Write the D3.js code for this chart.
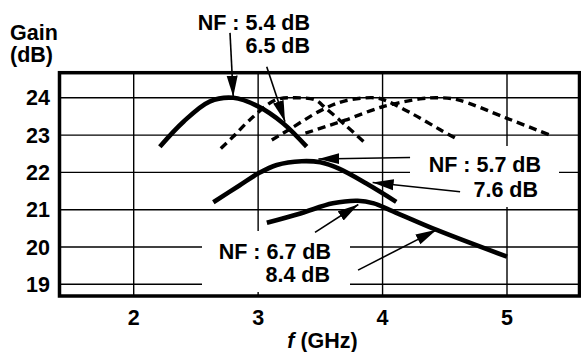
<!DOCTYPE html>
<html>
<head>
<meta charset="utf-8">
<script src="https://cdn.jsdelivr.net/npm/d3@7"></script>
<style>
  html, body { margin: 0; padding: 0; background: #fff; }
  text { font-family: 'Liberation Sans', Arial, sans-serif; font-weight: bold; font-size: 21.5px; fill: #000; white-space: pre; }
</style>
</head>
<body>
<div id="chart_gain"></div>
<script>
// tick labels
var xTicks = [2, 3, 4, 5];
var yTicks = [19, 20, 21, 22, 23, 24];

// solid curves (f in GHz, gain in dB)
var freqA = [2.21, 2.40, 2.61, 2.80, 3.00, 3.20, 3.39];
var gainA = [22.69, 23.36, 23.90, 24.00, 23.77, 23.32, 22.69];
var freqB = [2.64, 2.85, 3.00, 3.15, 3.35, 3.50, 3.65, 3.87, 4.11];
var gainB = [21.20, 21.65, 21.97, 22.20, 22.30, 22.27, 22.10, 21.70, 21.21];
var freqC = [3.07, 3.34, 3.60, 3.80, 3.93, 4.06, 4.44, 5.00];
var gainC = [20.65, 20.90, 21.17, 21.24, 21.17, 20.99, 20.45, 19.74];

// dashed curves
var freqD1 = [2.70, 2.80, 2.93, 3.14, 3.30, 3.46, 3.54, 3.70, 3.87];
var gainD1 = [22.64, 22.96, 23.40, 23.94, 24.00, 23.94, 23.73, 23.27, 22.76];
var freqD2 = [3.11, 3.24, 3.51, 3.70, 3.94, 4.03, 4.25, 4.46, 4.60];
var gainD2 = [22.87, 23.13, 23.67, 23.92, 24.00, 23.92, 23.55, 23.15, 22.89];
var freqD3 = [3.38, 3.58, 3.70, 4.00, 4.30, 4.45, 4.60, 5.00, 5.36];
var gainD3 = [23.05, 23.27, 23.40, 23.76, 23.97, 24.00, 23.95, 23.45, 22.98];

// arrows: [fromF, fromG, toF, toG]
var arrows = [
  [2.774, 25.74, 2.800, 24.03],
  [3.069, 24.83, 3.216, 23.36],
  [4.221, 22.40, 3.484, 22.36],
  [4.623, 21.48, 3.920, 21.73],
  [3.457, 20.39, 3.805, 21.14],
  [3.803, 19.38, 4.434, 20.46]
];

var width = 581, height = 352;
var plot = {left: 59.5, top: 72.7, right: 579.5, bottom: 296};

var svg = d3
  .select('#chart_gain')
  .append('svg')
  .attr('width', width)
  .attr('height', height);

var x = d3.scaleLinear().domain([2, 5]).range([133.7, 507]);
var y = d3.scaleLinear().domain([19, 24]).range([284.3, 97.8]);

function pts(fs, gs) {
  return fs.map(function (f, i) { return [f, gs[i]]; });
}

// grid
svg.append('g')
  .selectAll('line')
  .data(xTicks)
  .enter()
  .append('line')
  .attr('x1', function (d) { return x(d); })
  .attr('x2', function (d) { return x(d); })
  .attr('y1', plot.top)
  .attr('y2', plot.bottom)
  .attr('stroke', '#000')
  .attr('stroke-width', 1.4);

svg.append('g')
  .selectAll('line')
  .data(yTicks)
  .enter()
  .append('line')
  .attr('x1', plot.left)
  .attr('x2', plot.right)
  .attr('y1', function (d) { return y(d); })
  .attr('y2', function (d) { return y(d); })
  .attr('stroke', '#000')
  .attr('stroke-width', 1.4);

// white boxes behind the inner labels
svg.append('rect').attr('x', 410).attr('y', 146).attr('width', 149).attr('height', 61).attr('fill', '#fff');
svg.append('rect').attr('x', 202).attr('y', 231).attr('width', 148).attr('height', 61).attr('fill', '#fff');

// frame
svg.append('rect')
  .attr('x', plot.left)
  .attr('y', plot.top)
  .attr('width', plot.right - plot.left)
  .attr('height', plot.bottom - plot.top)
  .attr('fill', 'none')
  .attr('stroke', '#000')
  .attr('stroke-width', 3.5);

// curves
var line = d3.line()
  .x(function (d) { return x(d[0]); })
  .y(function (d) { return y(d[1]); })
  .curve(d3.curveCatmullRom.alpha(0.5));

[pts(freqD1, gainD1), pts(freqD2, gainD2), pts(freqD3, gainD3)].forEach(function (p) {
  svg.append('path')
    .attr('d', line(p))
    .attr('fill', 'none')
    .attr('stroke', '#000')
    .attr('stroke-width', 3.4)
    .attr('stroke-dasharray', '8,5');
});

[pts(freqA, gainA), pts(freqB, gainB), pts(freqC, gainC)].forEach(function (p) {
  svg.append('path')
    .attr('d', line(p))
    .attr('fill', 'none')
    .attr('stroke', '#000')
    .attr('stroke-width', 4.6);
});

// arrows
svg.append('defs')
  .append('marker')
  .attr('id', 'head')
  .attr('markerUnits', 'userSpaceOnUse')
  .attr('markerWidth', 22)
  .attr('markerHeight', 12)
  .attr('viewBox', '0 -6 22 12')
  .attr('refX', 21)
  .attr('refY', 0)
  .attr('orient', 'auto')
  .append('path')
  .attr('d', 'M0,-5.5L21,0L0,5.5Z')
  .attr('fill', '#000');

svg.append('g')
  .selectAll('line')
  .data(arrows)
  .enter()
  .append('line')
  .attr('x1', function (d) { return x(d[0]); })
  .attr('y1', function (d) { return y(d[1]); })
  .attr('x2', function (d) { return x(d[2]); })
  .attr('y2', function (d) { return y(d[3]); })
  .attr('stroke', '#000')
  .attr('stroke-width', 1.6)
  .attr('marker-end', 'url(#head)');

// labels
var labels = [
  ['NF : 5.4 dB', 310, 30],
  ['6.5 dB', 310, 53],
  ['NF : 5.7 dB', 541, 172],
  ['7.6 dB', 538, 197],
  ['NF : 6.7 dB', 331, 259],
  ['8.4 dB', 330, 282]
];
svg.append('g')
  .selectAll('text')
  .data(labels)
  .enter()
  .append('text')
  .attr('x', function (d) { return d[1]; })
  .attr('y', function (d) { return d[2]; })
  .attr('text-anchor', 'end')
  .text(function (d) { return d[0]; });

// axes labels
svg.append('g')
  .selectAll('text')
  .data(yTicks)
  .enter()
  .append('text')
  .attr('x', 50)
  .attr('y', function (d) { return y(d); })
  .attr('dy', '0.35em')
  .attr('text-anchor', 'end')
  .text(function (d) { return d; });

svg.append('g')
  .selectAll('text')
  .data(xTicks)
  .enter()
  .append('text')
  .attr('x', function (d) { return x(d); })
  .attr('y', 325)
  .attr('text-anchor', 'middle')
  .text(function (d) { return d; });

svg.append('text').attr('x', 10).attr('y', 40).text('Gain');
svg.append('text').attr('x', 10).attr('y', 62).text('(dB)');

var xt = svg.append('text').attr('x', 322.5).attr('y', 348).attr('text-anchor', 'middle');
xt.append('tspan').style('font-style', 'italic').text('f');
xt.append('tspan').text(' (GHz)');
</script>
</body>
</html>
